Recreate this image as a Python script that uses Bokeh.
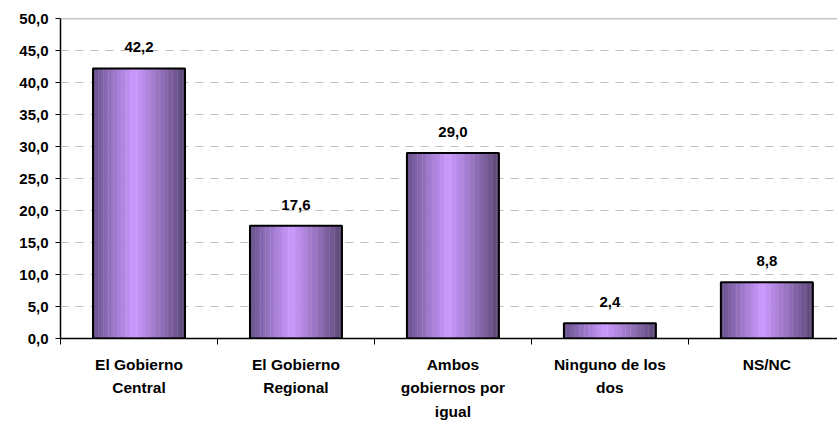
from bokeh.plotting import figure
from bokeh.models import FixedTicker, Span
from bokeh.core.properties import value
from bokeh.embed import file_html
from bokeh.resources import INLINE

categories = ["El Gobierno\nCentral", "El Gobierno\nRegional", "Ambos\ngobiernos por\nigual",
              "Ninguno de los\ndos", "NS/NC"]
values = [42.2, 17.6, 29.0, 2.4, 8.8]
y_ticks = [0, 5, 10, 15, 20, 25, 30, 35, 40, 45, 50]
y_tick_labels = ["0,0", "5,0", "10,0", "15,0", "20,0", "25,0", "30,0", "35,0", "40,0", "45,0", "50,0"]

FONT = "Liberation Sans"
BAR_W = 0.586
N_STRIPS = 36

p = figure(width=837, height=423, output_backend="svg", toolbar_location=None,
           x_range=(0, 4.95), y_range=(0, 50),
           min_border_left=60, min_border_right=0, min_border_top=18, min_border_bottom=84)
p.background_fill_color = "white"
p.border_fill_color = "white"
p.outline_line_color = None

# grid
p.xgrid.visible = False
p.ygrid.ticker = FixedTicker(ticks=y_ticks[1:-1])
p.ygrid.grid_line_color = "#bfbfbf"
p.ygrid.grid_line_dash = "8 7"
p.ygrid.grid_line_width = 1
p.add_layout(Span(location=y_ticks[-1], dimension="width", line_color="#8c8c8c", line_width=1.5))

# gradient bars as strips
def grad_color(t):
    dark_l = (0x62, 0x4e, 0x86)
    dark_r = (0x56, 0x44, 0x70)
    light = (0xcc, 0x99, 0xff)
    peak = 0.45
    if t < peak:
        s = t / peak
        d = dark_l
    else:
        s = (1 - t) / (1 - peak)
        d = dark_r
    s = s ** 0.9
    c = [int(round(d[j] + (light[j] - d[j]) * s)) for j in range(3)]
    return "#%02x%02x%02x" % tuple(c)

lefts, rights, tops, bottoms, colors = [], [], [], [], []
centers = [i + 0.5 for i in range(len(values))]
for c, v in zip(centers, values):
    x0 = c - BAR_W / 2
    sw = BAR_W / N_STRIPS
    for k in range(N_STRIPS):
        lefts.append(x0 + k * sw)
        rights.append(x0 + (k + 1) * sw + sw * 0.15)
        tops.append(v)
        bottoms.append(0)
        colors.append(grad_color((k + 0.5) / N_STRIPS))
p.quad(left=lefts, right=rights, top=tops, bottom=bottoms, fill_color=colors, line_color=None)
p.vbar(x=centers, top=values, width=BAR_W, bottom=0, fill_color=None, line_color="black", line_width=2)

# value labels
labels = [f"{v:.1f}".replace(".", ",") for v in values]
p.text(x=centers, y=values, text=labels, text_align="center", text_baseline="alphabetic",
       y_offset=-21, text_font=value(FONT), text_font_style="bold", text_font_size="15px",
       text_color="black")

# y axis
ya = p.yaxis[0]
ya.ticker = FixedTicker(ticks=y_ticks)
ya.major_label_overrides = {t: l for t, l in zip(y_ticks, y_tick_labels)}
ya.major_label_text_font = FONT
ya.major_label_text_font_style = "bold"
ya.major_label_text_font_size = "15px"
ya.major_label_text_color = "black"
ya.axis_line_color = "black"
ya.axis_line_width = 1.5
ya.major_tick_line_color = "black"
ya.major_tick_out = 5
ya.major_tick_in = 0
ya.minor_tick_line_color = None
ya.major_label_standoff = 7

# x axis
xa = p.xaxis[0]
xa.ticker = FixedTicker(ticks=centers, minor_ticks=list(range(len(values) + 1)))
xa.major_label_overrides = {c: l for c, l in zip(centers, categories)}
xa.major_label_text_font = FONT
xa.major_label_text_font_style = "bold"
xa.major_label_text_font_size = "15.5px"
xa.major_label_text_color = "black"
xa.major_label_text_line_height = 1.4
xa.axis_line_color = "black"
xa.axis_line_width = 1.5
xa.major_tick_line_color = None
xa.major_tick_out = 0
xa.major_tick_in = 0
xa.minor_tick_line_color = "black"
xa.minor_tick_out = 6
xa.minor_tick_in = 0
xa.major_label_standoff = 11

open("out.html", "w").write(file_html(p, INLINE))
